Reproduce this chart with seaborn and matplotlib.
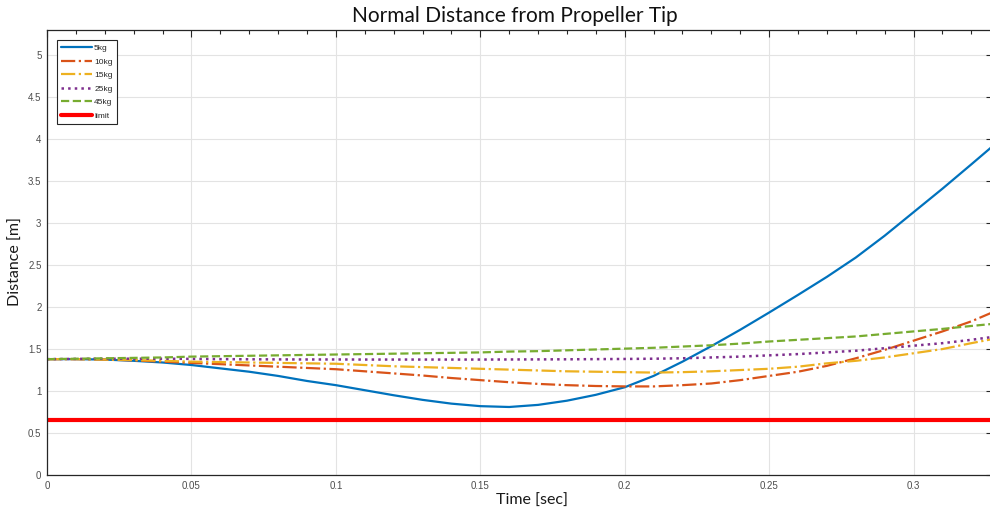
import numpy as np
import pandas as pd
import matplotlib
matplotlib.use("Agg")
import matplotlib.pyplot as plt
from matplotlib.ticker import MultipleLocator
import seaborn as sns

# ============================
# DATA
# ============================

time_s = [0.0, 0.01, 0.02, 0.03, 0.04, 0.05, 0.06, 0.07, 0.08, 0.09,
          0.10, 0.11, 0.12, 0.13, 0.14, 0.15, 0.16, 0.17, 0.18, 0.19,
          0.20, 0.21, 0.22, 0.23, 0.24, 0.25, 0.26, 0.27, 0.28, 0.29,
          0.30, 0.31, 0.32, 0.3275]

dist_5kg = [1.38, 1.38, 1.375, 1.36, 1.34, 1.31, 1.27, 1.23, 1.18, 1.12,
            1.07, 1.01, 0.95, 0.895, 0.85, 0.82, 0.81, 0.835, 0.885, 0.955,
            1.045, 1.18, 1.35, 1.535, 1.73, 1.935, 2.145, 2.36, 2.59, 2.85,
            3.13, 3.41, 3.70, 3.92]

dist_10kg = [1.38, 1.38, 1.375, 1.365, 1.35, 1.335, 1.32, 1.305, 1.29, 1.275,
             1.26, 1.235, 1.21, 1.185, 1.155, 1.13, 1.105, 1.085, 1.07, 1.06,
             1.055, 1.055, 1.07, 1.09, 1.13, 1.18, 1.23, 1.30, 1.39, 1.49,
             1.60, 1.71, 1.83, 1.94]

dist_15kg = [1.38, 1.38, 1.375, 1.37, 1.36, 1.35, 1.345, 1.34, 1.335, 1.33,
             1.325, 1.31, 1.295, 1.285, 1.275, 1.265, 1.255, 1.245, 1.235, 1.23,
             1.225, 1.22, 1.225, 1.235, 1.25, 1.265, 1.29, 1.33, 1.36, 1.40,
             1.45, 1.50, 1.57, 1.62]

dist_25kg = [1.38, 1.383, 1.385, 1.385, 1.385, 1.383, 1.38, 1.378, 1.377, 1.376,
             1.376, 1.375, 1.375, 1.375, 1.375, 1.375, 1.376, 1.377, 1.378, 1.38,
             1.382, 1.385, 1.39, 1.40, 1.41, 1.425, 1.44, 1.46, 1.48, 1.51,
             1.54, 1.57, 1.61, 1.645]

dist_45kg = [1.38, 1.385, 1.39, 1.395, 1.40, 1.41, 1.415, 1.42, 1.425, 1.43,
             1.435, 1.44, 1.445, 1.45, 1.455, 1.46, 1.47, 1.475, 1.485, 1.495,
             1.505, 1.515, 1.53, 1.545, 1.565, 1.59, 1.61, 1.63, 1.65, 1.68,
             1.71, 1.74, 1.775, 1.80]

limit_time = [0.0, 0.3275]
limit_dist = [0.65, 0.65]

# ============================
# STYLE
# ============================

sns.set_theme(style="whitegrid")
plt.rcParams["font.family"] = ["Liberation Sans", "DejaVu Sans"]

series = [
    ("5kg", dist_5kg, "#0072BD", "-", 1.6),
    ("10kg", dist_10kg, "#D95319", "-.", 1.6),
    ("15kg", dist_15kg, "#EDB120", "-.", 1.6),
    ("25kg", dist_25kg, "#7E2F8E", ":", 1.8),
    ("45kg", dist_45kg, "#77AC30", "--", 1.6),
]

fig = plt.figure(figsize=(9.9, 5.11), dpi=100)
ax = fig.add_axes([47 / 990, 1 - 475 / 511, 946 / 990, 445 / 511])

for name, vals, col, ls, lw in series:
    sns.lineplot(x=time_s, y=vals, ax=ax, color=col, linestyle=ls,
                 linewidth=lw, label=name)
sns.lineplot(x=limit_time, y=limit_dist, ax=ax, color="#FF0000",
             linewidth=3, label="limit")

ax.set_xlim(0, 0.3275)
ax.set_ylim(0, 5.3)
ax.xaxis.set_major_locator(MultipleLocator(0.05))
ax.xaxis.set_minor_locator(MultipleLocator(0.01))
ax.yaxis.set_major_locator(MultipleLocator(0.5))
ax.yaxis.set_minor_locator(MultipleLocator(0.1))
ax.set_xticklabels([f"{v:g}" for v in ax.get_xticks()])
ax.set_yticklabels([f"{v:g}" for v in ax.get_yticks()])

ax.grid(True, which="major", color="#e3e3e3", linewidth=0.8)
ax.grid(False, which="minor")
ax.tick_params(which="both", direction="in", top=True, right=True,
               color="#262626", width=0.8, labelsize=7, labelcolor="#4d4d4d",
               pad=4)
ax.tick_params(which="major", length=5)
ax.tick_params(which="minor", length=3, right=False)
for sp in ax.spines.values():
    sp.set_color("#262626")
    sp.set_linewidth(0.9)

ax.set_xlabel("Time [sec]", fontsize=11.5, family="Lato", color="#1a1a1a")
ax.set_ylabel("Distance [m]", fontsize=11.5, family="Lato", color="#1a1a1a")
ax.xaxis.set_label_coords(0.513, -0.043)
ax.yaxis.set_label_coords(-0.026, 0.479)

fig.text(515 / 990, 1 - 16 / 511, "Normal Distance from Propeller Tip",
         ha="center", va="center", fontsize=15, family="Lato", color="#111111")

leg = ax.legend(loc="upper left", fontsize=6, handlelength=3.7,
                handletextpad=0.25, labelspacing=0.68, borderpad=0.5,
                borderaxespad=0, fancybox=False, framealpha=1,
                edgecolor="#262626", bbox_to_anchor=(0.0106, 0.9775))
leg.get_frame().set_linewidth(0.8)

fig.savefig("out.png", dpi=100)
